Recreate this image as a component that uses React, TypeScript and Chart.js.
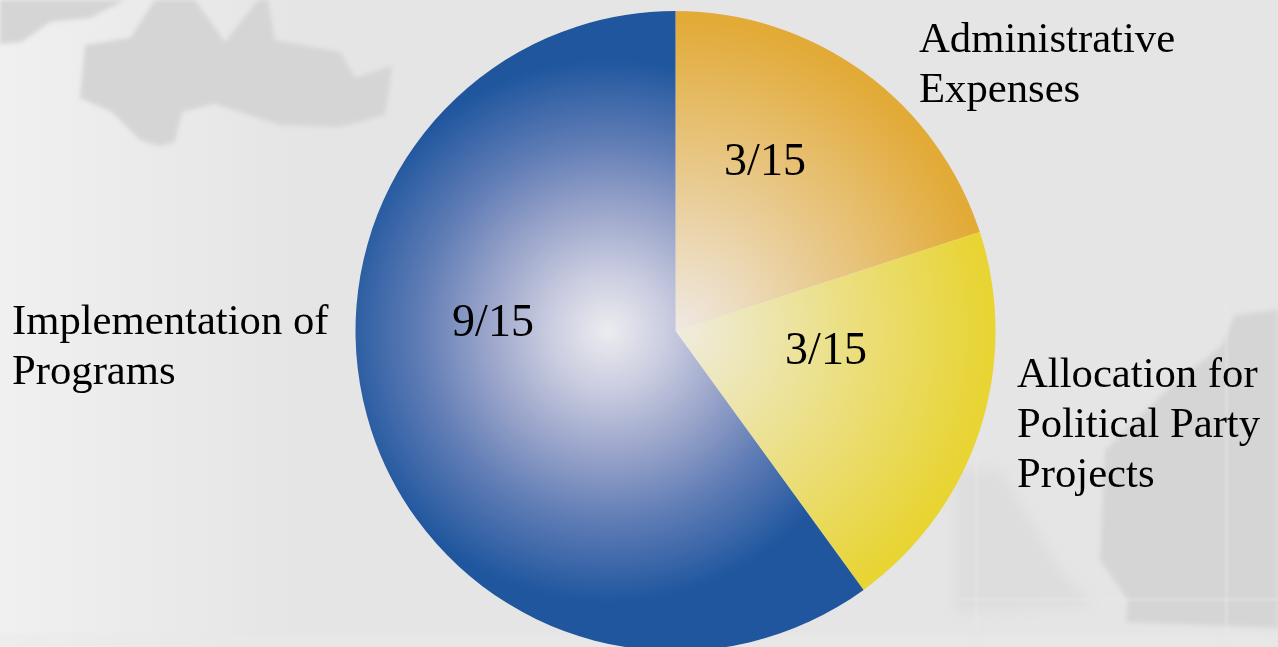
import React, { useEffect, useRef } from "react";
import { Chart, registerables } from "chart.js";

Chart.register(...registerables);

const categories = ["Administrative Expenses", "Allocation for Political Party Projects", "Implementation of Programs"];
const shares = [3, 3, 9];
const shareLabels = ["3/15", "3/15", "9/15"];
const categoryLines = [["Administrative", "Expenses"], ["Allocation for", "Political Party", "Projects"], ["Implementation of", "Programs"]];
const sliceStops: [number, string][][] = [
  [[0, "#efe9e4"], [1, "#e2aa36"]],
  [[0, "#efece0"], [1, "#e8d432"]],
  [[0, "#ececef"], [0.22, "#c9cce0"], [0.44, "#9ca6cb"], [0.7, "#5f7cb5"], [1, "#1f569e"]],
];
const sliceOuter = ["#e2aa36", "#e8d432", "#1f569e"];
const sliceGradientShift = [0, 0, -67];
const sliceGradientRadius = [315, 315, 272];

const shareAnchors = [[765, 163], [826, 352], [493, 324]];
const categoryAnchors = [[919, 41], [1017, 376], [12, 323]];
const LINE_GAP = 50;

const darkShapes: number[][][] = [
  [[85, 45], [80, 98], [112, 112], [140, 140], [160, 146], [175, 142], [182, 112], [215, 104], [280, 125], [340, 127], [385, 115], [392, 66], [355, 78], [340, 52], [275, 40], [268, 0], [258, 0], [225, 42], [195, 0], [155, 0], [130, 38]],
  [[0, 0], [125, 0], [90, 18], [50, 22], [22, 42], [0, 44]],
  [[1278, 310], [1235, 315], [1222, 345], [1165, 392], [1105, 450], [1100, 560], [1128, 600], [1126, 622], [1278, 628]],
];
const midShapes: number[][][] = [
  [[955, 470], [1000, 470], [1060, 570], [1092, 605], [955, 612]],
];
const lightBands = [[0, 634, 1278, 13], [960, 598, 318, 3], [975, 450, 3, 197], [1225, 300, 3, 347]];

const backdrop = {
  id: "backdrop",
  beforeDraw(chart: any) {
    const { ctx, width, height } = chart;
    const base = ctx.createLinearGradient(0, 0, 300, 0);
    base.addColorStop(0, "#f0f0f0");
    base.addColorStop(1, "#e5e5e5");
    ctx.save();
    ctx.fillStyle = base;
    ctx.fillRect(0, 0, width, height);
    const fill = (shape: number[][], color: string) => {
      ctx.fillStyle = color;
      ctx.beginPath();
      shape.forEach(([x, y], i) => (i ? ctx.lineTo(x, y) : ctx.moveTo(x, y)));
      ctx.closePath();
      ctx.fill();
    };
    ctx.filter = "blur(6px)";
    midShapes.forEach((s) => fill(s, "#dddddd"));
    ctx.filter = "blur(2px)";
    darkShapes.forEach((s) => fill(s, "#d5d5d5"));
    ctx.filter = "blur(1px)";
    ctx.fillStyle = "rgba(232,232,232,0.45)";
    lightBands.forEach(([x, y, w, h]) => ctx.fillRect(x, y, w, h));
    ctx.restore();
  },
};

const textLabels = {
  id: "textLabels",
  afterDatasetsDraw(chart: any) {
    const { ctx } = chart;
    ctx.save();
    ctx.fillStyle = "#000000";
    ctx.textBaseline = "middle";
    ctx.font = "46px 'Liberation Serif'";
    ctx.textAlign = "center";
    shareLabels.forEach((t, i) => ctx.fillText(t, shareAnchors[i][0], shareAnchors[i][1]));
    ctx.font = "42.7px 'Liberation Serif'";
    ctx.textAlign = "left";
    categoryLines.forEach((lines, i) =>
      lines.forEach((t, j) => ctx.fillText(t, categoryAnchors[i][0], categoryAnchors[i][1] + j * LINE_GAP))
    );
    ctx.restore();
  },
};

export default function App() {
  const ref = useRef<HTMLCanvasElement>(null);
  useEffect(() => {
    const chart = new Chart(ref.current!, {
      type: "pie",
      data: {
        labels: categories,
        datasets: [
          {
            data: shares,
            borderWidth: 0,
            backgroundColor: (c: any) => {
              const { ctx, chartArea } = c.chart;
              if (!chartArea) return sliceOuter[c.dataIndex];
              const cx = (chartArea.left + chartArea.right) / 2 + sliceGradientShift[c.dataIndex];
              const cy = (chartArea.top + chartArea.bottom) / 2;
              const g = ctx.createRadialGradient(cx, cy, 0, cx, cy, sliceGradientRadius[c.dataIndex]);
              sliceStops[c.dataIndex].forEach(([at, color]) => g.addColorStop(at, color));
              return g;
            },
          },
        ],
      },
      options: {
        animation: false,
        responsive: false,
        layout: { padding: { left: 73, top: 11, bottom: 9, right: 0 } },
        plugins: { legend: { display: false }, tooltip: { enabled: false } },
      },
      plugins: [backdrop, textLabels],
    });
    return () => chart.destroy();
  }, []);
  return (
    <div style={{ position: "fixed", inset: 0, overflow: "hidden", background: "#e5e5e5" }}>
      <canvas ref={ref} width={1278} height={660} style={{ display: "block" }} />
    </div>
  );
}
